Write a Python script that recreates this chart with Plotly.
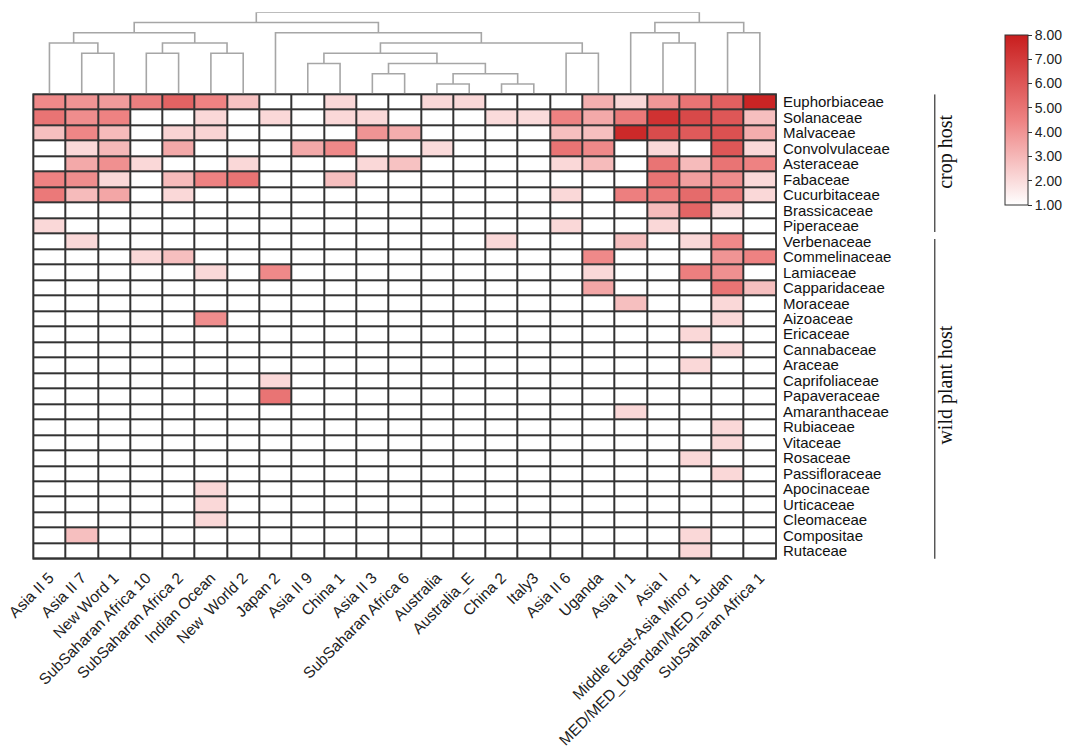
import plotly.graph_objects as go

# ---------------- data ----------------
columns = ["Asia II 5", "Asia II 7", "New Word 1", "SubSaharan Africa 10", "SubSaharan Africa 2",
           "Indian Ocean", "New  World 2", "Japan 2", "Asia II 9", "China 1", "Asia II 3",
           "SubSaharan Africa 6", "Australia", "Australia_E", "China 2", "Italy3", "Asia II 6",
           "Uganda", "Asia II 1", "Asia I", "Middle East-Asia Minor 1",
           "MED/MED_Ugandan/MED_Sudan", "SubSaharan Africa 1"]

crop_families = ["Euphorbiaceae", "Solanaceae", "Malvaceae", "Convolvulaceae", "Asteraceae",
                 "Fabaceae", "Cucurbitaceae", "Brassicaceae", "Piperaceae"]
wild_families = ["Verbenaceae", "Commelinaceae", "Lamiaceae", "Capparidaceae", "Moraceae",
                 "Aizoaceae", "Ericaceae", "Cannabaceae", "Araceae", "Caprifoliaceae",
                 "Papaveraceae", "Amaranthaceae", "Rubiaceae", "Vitaceae", "Rosaceae",
                 "Passifloraceae", "Apocinaceae", "Urticaceae", "Cleomaceae", "Compositae",
                 "Rutaceae"]

# values per family (0 = not recorded, drawn white)
euphorbiaceae  = [4.3, 4.0, 3.8, 4.6, 5.6, 4.5, 2.7, 0, 0, 2.1, 0, 0, 2.1, 2.1, 0, 0, 0, 3.2, 2.1, 3.9, 5.0, 5.7, 7.8]
solanaceae     = [5.0, 4.2, 4.5, 0, 0, 2.1, 0, 2.1, 0, 2.1, 2.1, 0, 0, 0, 2.0, 2.0, 4.5, 3.4, 4.8, 7.3, 6.5, 6.0, 2.8]
malvaceae      = [2.8, 4.4, 2.9, 0, 2.2, 2.2, 0, 0, 0, 0, 4.0, 3.3, 0, 0, 0, 0, 2.8, 2.8, 7.6, 6.4, 5.9, 6.2, 3.3]
convolvulaceae = [0, 2.1, 3.0, 0, 3.4, 0, 0, 0, 3.4, 4.3, 0, 0, 2.0, 0, 0, 0, 5.0, 4.3, 0, 2.1, 0, 6.0, 2.1]
asteraceae     = [0, 3.4, 4.1, 2.1, 0, 0, 2.1, 0, 0, 0, 2.1, 2.7, 0, 0, 0, 0, 2.1, 2.9, 0, 5.0, 2.9, 5.0, 4.5]
fabaceae       = [4.5, 4.2, 2.1, 0, 2.9, 4.5, 5.0, 0, 0, 2.8, 0, 0, 0, 0, 0, 0, 0, 0, 0, 5.0, 3.7, 4.2, 2.1]
cucurbitaceae  = [4.8, 2.9, 3.5, 0, 2.1, 0, 0, 0, 0, 0, 0, 0, 0, 0, 0, 0, 2.1, 0, 4.6, 4.8, 5.3, 4.8, 2.1]
brassicaceae   = [0, 0, 0, 0, 0, 0, 0, 0, 0, 0, 0, 0, 0, 0, 0, 0, 0, 0, 0, 2.9, 5.5, 2.1, 0]
piperaceae     = [2.1, 0, 0, 0, 0, 0, 0, 0, 0, 0, 0, 0, 0, 0, 0, 0, 2.1, 0, 0, 2.1, 0, 0, 0]
verbenaceae    = [0, 2.1, 0, 0, 0, 0, 0, 0, 0, 0, 0, 0, 0, 0, 2.1, 0, 0, 0, 2.8, 0, 2.1, 4.3, 0]
commelinaceae  = [0, 0, 0, 2.1, 2.8, 0, 0, 0, 0, 0, 0, 0, 0, 0, 0, 0, 0, 4.3, 0, 0, 0, 4.0, 4.5]
lamiaceae      = [0, 0, 0, 0, 0, 2.1, 0, 4.3, 0, 0, 0, 0, 0, 0, 0, 0, 0, 2.1, 0, 0, 4.6, 4.1, 0]
capparidaceae  = [0, 0, 0, 0, 0, 0, 0, 0, 0, 0, 0, 0, 0, 0, 0, 0, 0, 3.5, 0, 0, 0, 5.0, 2.8]
moraceae       = [0, 0, 0, 0, 0, 0, 0, 0, 0, 0, 0, 0, 0, 0, 0, 0, 0, 0, 2.8, 0, 0, 2.1, 0]
aizoaceae      = [0, 0, 0, 0, 0, 4.2, 0, 0, 0, 0, 0, 0, 0, 0, 0, 0, 0, 0, 0, 0, 0, 2.1, 0]
ericaceae      = [0, 0, 0, 0, 0, 0, 0, 0, 0, 0, 0, 0, 0, 0, 0, 0, 0, 0, 0, 0, 2.1, 0, 0]
cannabaceae    = [0, 0, 0, 0, 0, 0, 0, 0, 0, 0, 0, 0, 0, 0, 0, 0, 0, 0, 0, 0, 0, 2.1, 0]
araceae        = [0, 0, 0, 0, 0, 0, 0, 0, 0, 0, 0, 0, 0, 0, 0, 0, 0, 0, 0, 0, 2.1, 0, 0]
caprifoliaceae = [0, 0, 0, 0, 0, 0, 0, 2.1, 0, 0, 0, 0, 0, 0, 0, 0, 0, 0, 0, 0, 0, 0, 0]
papaveraceae   = [0, 0, 0, 0, 0, 0, 0, 5.0, 0, 0, 0, 0, 0, 0, 0, 0, 0, 0, 0, 0, 0, 0, 0]
amaranthaceae  = [0, 0, 0, 0, 0, 0, 0, 0, 0, 0, 0, 0, 0, 0, 0, 0, 0, 0, 2.1, 0, 0, 0, 0]
rubiaceae      = [0, 0, 0, 0, 0, 0, 0, 0, 0, 0, 0, 0, 0, 0, 0, 0, 0, 0, 0, 0, 0, 2.1, 0]
vitaceae       = [0, 0, 0, 0, 0, 0, 0, 0, 0, 0, 0, 0, 0, 0, 0, 0, 0, 0, 0, 0, 0, 2.1, 0]
rosaceae       = [0, 0, 0, 0, 0, 0, 0, 0, 0, 0, 0, 0, 0, 0, 0, 0, 0, 0, 0, 0, 2.1, 0, 0]
passifloraceae = [0, 0, 0, 0, 0, 0, 0, 0, 0, 0, 0, 0, 0, 0, 0, 0, 0, 0, 0, 0, 0, 2.1, 0]
apocinaceae    = [0, 0, 0, 0, 0, 2.1, 0, 0, 0, 0, 0, 0, 0, 0, 0, 0, 0, 0, 0, 0, 0, 0, 0]
urticaceae     = [0, 0, 0, 0, 0, 2.1, 0, 0, 0, 0, 0, 0, 0, 0, 0, 0, 0, 0, 0, 0, 0, 0, 0]
cleomaceae     = [0, 0, 0, 0, 0, 2.1, 0, 0, 0, 0, 0, 0, 0, 0, 0, 0, 0, 0, 0, 0, 0, 0, 0]
compositae     = [0, 2.8, 0, 0, 0, 0, 0, 0, 0, 0, 0, 0, 0, 0, 0, 0, 0, 0, 0, 0, 2.1, 0, 0]
rutaceae       = [0, 0, 0, 0, 0, 0, 0, 0, 0, 0, 0, 0, 0, 0, 0, 0, 0, 0, 0, 0, 2.1, 0, 0]

crop_values = [euphorbiaceae, solanaceae, malvaceae, convolvulaceae, asteraceae,
               fabaceae, cucurbitaceae, brassicaceae, piperaceae]
wild_values = [verbenaceae, commelinaceae, lamiaceae, capparidaceae, moraceae, aizoaceae,
               ericaceae, cannabaceae, araceae, caprifoliaceae, papaveraceae, amaranthaceae,
               rubiaceae, vitaceae, rosaceae, passifloraceae, apocinaceae, urticaceae,
               cleomaceae, compositae, rutaceae]

# column dendrogram: merges (left, right, height); ids >= 23 refer to earlier merges
n_leaves = len(columns)
merges = [
    (1, 2, 4), (0, 23, 5), (3, 4, 4), (5, 6, 4), (25, 26, 5), (24, 27, 6),
    (12, 13, 1), (14, 15, 1), (29, 30, 2), (10, 11, 2), (32, 31, 3), (8, 9, 3),
    (34, 33, 4), (16, 17, 4), (35, 36, 5), (7, 37, 6), (28, 38, 7),
    (19, 20, 5), (18, 40, 6), (21, 22, 6), (41, 42, 7), (39, 43, 8),
]

colorbar_ticks = [1, 2, 3, 4, 5, 6, 7, 8]

# ---------------- build ----------------
families = crop_families + wild_families
z = crop_values + wild_values

pos = {i: (float(i), 0.0) for i in range(n_leaves)}
dx, dy = [], []
for k, (a, b, h) in enumerate(merges):
    xa, ha = pos[a]
    xb, hb = pos[b]
    dx += [xa, xa, xb, xb, None]
    dy += [ha, h, h, hb, None]
    pos[n_leaves + k] = ((xa + xb) / 2.0, float(h))

W, H = 1080, 754
hm_left, hm_right = 33.3, 776.2
hm_top, hm_bottom = 94.3, 558.7
dendro_top = 12.3
PW = hm_right               # plot-area width in px (margin l=0, r=W-PW)


def px(xp):
    return xp / PW


fig = go.Figure()

fig.add_trace(go.Heatmap(
    z=z, x=list(range(n_leaves)), y=list(range(len(families))),
    zmin=1, zmax=8,
    colorscale=[[0, "#FFFFFF"], [0.5, "#EE8282"], [1, "#C81E1E"]],
    xgap=2, ygap=2,
    colorbar=dict(
        x=px(1005), xanchor="left", y=1 - 35 / H, yanchor="top",
        len=170, lenmode="pixels", thickness=23, thicknessmode="pixels",
        outlinecolor="#333333", outlinewidth=1, xpad=0, ypad=0,
        tickvals=colorbar_ticks, ticktext=[f"{v:.2f}" for v in colorbar_ticks],
        ticks="outside", ticklen=4, tickcolor="#333333",
        tickfont=dict(size=14, color="#222222", family="Liberation Sans, Arial"),
    ),
    hovertemplate="%{text}<extra></extra>",
    text=[[f"{families[r]} / {columns[c]}: {z[r][c]}" for c in range(n_leaves)] for r in range(len(families))],
))

fig.add_trace(go.Scatter(
    x=dx, y=dy, mode="lines", xaxis="x2", yaxis="y2",
    line=dict(color="#A6A6A6", width=1.6), hoverinfo="skip", showlegend=False,
    cliponaxis=False,
))

xdom = [px(hm_left), 1.0]
fig.update_layout(
    width=W, height=H,
    margin=dict(l=0, r=W - PW, t=0, b=0, autoexpand=False),
    paper_bgcolor="white", plot_bgcolor="white",
    font=dict(family="Liberation Sans, Arial", color="#222222"),
    showlegend=False,
    xaxis=dict(domain=xdom, range=[-0.5, n_leaves - 0.5], tickmode="array",
               tickvals=list(range(n_leaves)), ticktext=columns, tickangle=-45,
               tickfont=dict(size=15.5, color="#222222"), showgrid=False, zeroline=False,
               ticks="outside", ticklen=3, tickcolor="rgba(0,0,0,0)", automargin=False),
    yaxis=dict(domain=[1 - hm_bottom / H, 1 - hm_top / H],
               range=[len(families) - 0.5, -0.5], tickmode="array",
               tickvals=list(range(len(families))), ticktext=families, side="right",
               tickfont=dict(size=15, color="#111111"), showgrid=False, zeroline=False,
               ticks="outside", ticklen=3, tickcolor="rgba(0,0,0,0)", automargin=False),
    xaxis2=dict(domain=xdom, range=[-0.5, n_leaves - 0.5], visible=False, anchor="y2"),
    yaxis2=dict(domain=[1 - hm_top / H, 1 - dendro_top / H], range=[0, 8],
                visible=False, anchor="x2"),
)

# dark grid under the heatmap (shows through the gaps) and border
fig.add_shape(type="rect", xref="x domain", yref="y domain", x0=0, x1=1, y0=0, y1=1,
              fillcolor="#333333", line=dict(color="#333333", width=1.5), layer="below")
fig.add_shape(type="rect", xref="x domain", yref="y domain", x0=0, x1=1, y0=0, y1=1,
              fillcolor="rgba(0,0,0,0)", line=dict(color="#333333", width=1.5), layer="above")

# group brackets on the right
n_crop = len(crop_families)
n_all = len(families)
group_x = px(935)
fig.add_shape(type="line", xref="paper", yref="y", x0=group_x, x1=group_x,
              y0=-0.5, y1=n_crop - 0.5 - 0.1, line=dict(color="#444444", width=1.3))
fig.add_shape(type="line", xref="paper", yref="y", x0=group_x, x1=group_x,
              y0=n_crop - 0.5 + 0.35, y1=n_all - 0.5 + 0.2, line=dict(color="#444444", width=1.3))
fig.add_annotation(text="crop host", xref="paper", yref="y", x=px(959), y=(n_crop - 1) / 2 - 0.8,
                   textangle=-90, showarrow=False,
                   font=dict(family="Liberation Serif, Times New Roman", size=20, color="#111111"))
fig.add_annotation(text="wild plant host", xref="paper", yref="y", x=px(959),
                   y=(n_crop + n_all - 1) / 2 - 0.7, textangle=-90, showarrow=False,
                   font=dict(family="Liberation Serif, Times New Roman", size=20, color="#111111"))

fig.write_html("out.html")
